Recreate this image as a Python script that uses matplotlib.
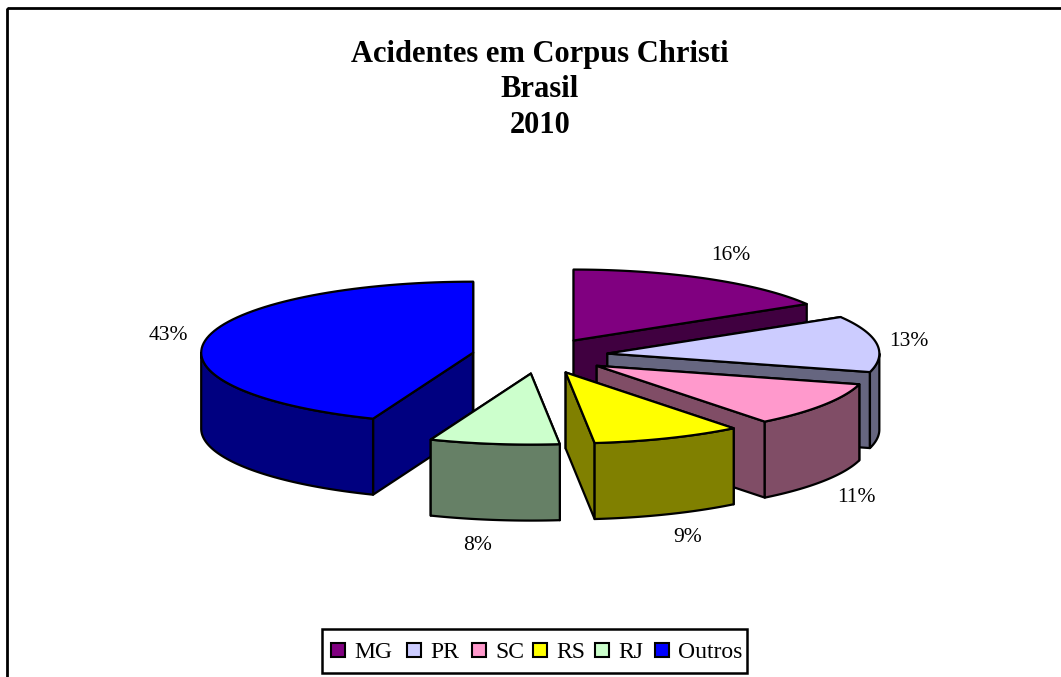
import numpy as np
import matplotlib
matplotlib.use("Agg")
import matplotlib.pyplot as plt
from matplotlib.patches import Polygon, Rectangle

plt.rcParams["font.family"] = ["Liberation Serif", "DejaVu Serif"]

title_lines = ["Acidentes em Corpus Christi", "Brasil", "2010"]
states = ["MG", "PR", "SC", "RS", "RJ", "Outros"]
shares = [16.4, 12.8, 10.2, 8.9, 7.7, 44.0]
share_labels = ["16%", "13%", "11%", "9%", "8%", "43%"]
top_colors = ["#800080", "#CCCCFF", "#FF99CC", "#FFFF00", "#CCFFCC", "#0000FF"]
side_colors = ["#400040", "#666680", "#804D66", "#808000", "#668066", "#000080"]
label_pos = [(731, 255), (909, 341), (856, 497), (688, 538), (478, 546), (168, 335)]

W, H = 1061, 677
CX, CY = 540, 356
RX, RY = 272, 71
EXPLODE = 0.25
DEPTH = 76


def arc(x0, y0, a0, a1):
    # angles are clockwise from the top of the pie, degrees
    t = np.radians(np.linspace(a0, a1, 80))
    return np.column_stack([x0 + RX * np.sin(t), y0 - RY * np.cos(t)])


def draw_slice(ax, a0, a1, top, side):
    mid = np.radians((a0 + a1) / 2)
    x0 = CX + EXPLODE * RX * np.sin(mid)
    y0 = CY - EXPLODE * RY * np.cos(mid)
    down = np.array([0, DEPTH])
    apex = np.array([x0, y0])
    rim = arc(x0, y0, a0, a1)

    style = dict(edgecolor="black", linewidth=1.6, joinstyle="round")
    # radial walls, the one facing away goes first
    for end in (rim[0], rim[-1]):
        wall = [apex, end, end + down, apex + down]
        ax.add_patch(Polygon(wall, facecolor=side, **style))

    # only the front part of the outer wall can be seen
    f0, f1 = max(a0, 90), min(a1, 270)
    if f0 < f1:
        front = arc(x0, y0, f0, f1)
        ax.add_patch(Polygon(np.vstack([front, (front + down)[::-1]]),
                             facecolor=side, **style))

    ax.add_patch(Polygon(np.vstack([apex, rim]), facecolor=top, **style))


def main():
    fig = plt.figure(figsize=(W / 100, H / 100), dpi=100)
    ax = fig.add_axes([0, 0, 1, 1])
    ax.set_xlim(0, W)
    ax.set_ylim(H, 0)
    ax.axis("off")

    # chart frame runs off the right and bottom of the image
    ax.add_patch(Rectangle((7, 8), 1100, 700, fill=False, edgecolor="black",
                           linewidth=2))

    for line, y in zip(title_lines, [62, 97, 133]):
        ax.text(540, y, line, ha="center", va="baseline", fontsize=22,
                fontweight="bold")

    edges = np.cumsum([0] + shares) / sum(shares) * 360
    # Outros goes first, RJ sits in front of its wall
    for i in [5, 0, 1, 2, 3, 4]:
        draw_slice(ax, edges[i], edges[i + 1], top_colors[i], side_colors[i])

    for label, (x, y) in zip(share_labels, label_pos):
        ax.text(x, y, label, ha="center", va="center", fontsize=15.5)

    # legend box
    ax.add_patch(Rectangle((322, 629), 425, 44, facecolor="white",
                           edgecolor="black", linewidth=1.8))
    key_x = [331, 407, 472, 533, 595, 655]
    for name, color, x in zip(states, top_colors, key_x):
        ax.add_patch(Rectangle((x, 643), 14, 14, facecolor=color,
                               edgecolor="black", linewidth=1.5))
        ax.text(x + 23, 658, name, ha="left", va="baseline", fontsize=17)

    fig.savefig("out.png", dpi=100)


if __name__ == "__main__":
    main()
